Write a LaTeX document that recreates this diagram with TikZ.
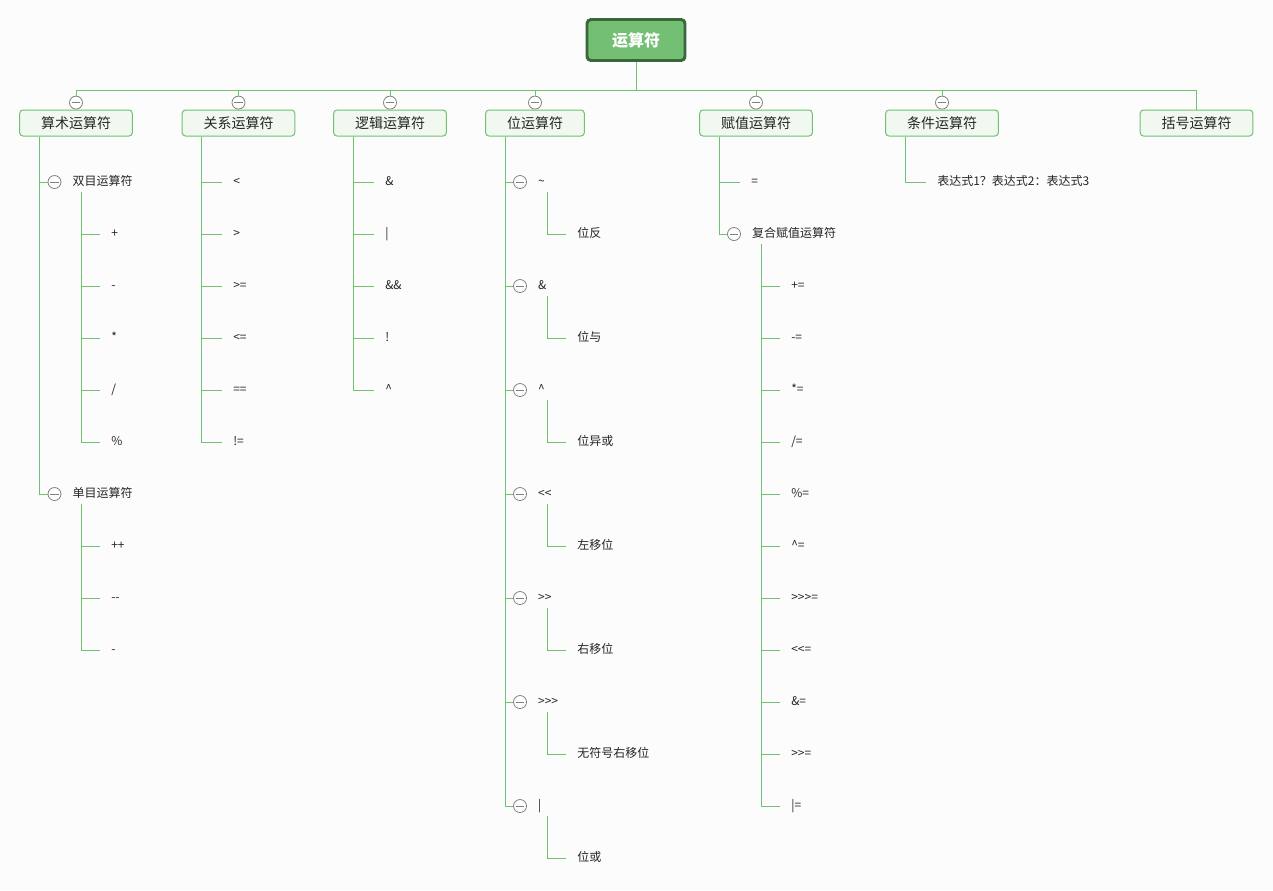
\documentclass[tikz,border=0pt]{standalone}
\usepackage{fontspec}
\newfontfamily\cjk{Noto Sans CJK SC}
\usetikzlibrary{positioning}
\definecolor{lineg}{RGB}{112,194,112}
\definecolor{rootfill}{RGB}{115,192,116}
\definecolor{rootdraw}{RGB}{58,102,60}
\definecolor{boxfill}{RGB}{241,248,240}
\definecolor{bgcol}{RGB}{252,252,252}
\definecolor{txt}{RGB}{38,38,38}
\definecolor{foldgray}{RGB}{128,128,128}

\begin{document}
\begin{tikzpicture}[x=0.75pt,y=-0.75pt,
  root/.style={rectangle,rounded corners=3pt,draw=rootdraw,line width=2.2pt,fill=rootfill,inner xsep=18.75pt,minimum height=30.75pt,text=white,font=\cjk\fontsize{12}{14}\selectfont\bfseries},
  cat/.style={rectangle,rounded corners=2.5pt,draw=lineg,line width=0.75pt,fill=boxfill,inner xsep=16pt,minimum height=19.5pt,text=txt,font=\cjk\fontsize{10.5}{12}\selectfont},
  leaf/.style={anchor=west,inner xsep=8.25pt,inner ysep=3.5pt,text height=6.5pt,text depth=1.5pt,text=txt,font=\cjk\fontsize{9}{11}\selectfont},
  fold/.style={circle,draw=foldgray,fill=white,line width=0.6pt,minimum size=9.75pt,inner sep=0pt,
    path picture={\draw[foldgray,line width=0.6pt] ([xshift=-3.2pt]path picture bounding box.center) -- ([xshift=3.2pt]path picture bounding box.center);}},
  link/.style={draw=lineg,line width=0.75pt}]

\fill[bgcol] (0,0) rectangle (1273,890);
\useasboundingbox (0,0) rectangle (1273,890);

\node[root] (yunsuanfu) at (636,40) {运算符};
\coordinate (hub) at (636,90);
\draw[link] (yunsuanfu.south) -- (hub);

\node[cat] (suanshu) at (76,123) {算术运算符};
\node[cat] (guanxi) at (238.5,123) {关系运算符};
\node[cat] (luoji) at (390,123) {逻辑运算符};
\node[cat] (wei) at (535,123) {位运算符};
\node[cat] (fuzhi) at (756,123) {赋值运算符};
\node[cat] (tiaojian) at (942,123) {条件运算符};
\node[cat] (kuohao) at (1196.5,123) {括号运算符};

\foreach \c in {suanshu,guanxi,luoji,wei,fuzhi,tiaojian}{
  \node[fold,above=0pt of \c.north] (\c-f) {};
  \draw[link] (hub) -| (\c-f.north);
}
\draw[link] (hub) -| (kuohao.north);

% suanshu
\node[fold] (shuangmu-f) at (54.5,182) {};
\node[leaf,right=0pt of shuangmu-f] (shuangmu) {双目运算符};
\node[fold] (danmu-f) at (54.5,494) {};
\node[leaf,right=0pt of danmu-f] (danmu) {单目运算符};
\draw[link] ([xshift=15pt]suanshu.south west) |- (shuangmu-f.west);
\draw[link] ([xshift=15pt]suanshu.south west) |- (danmu-f.west);
\foreach \t [count=\i from 0] in {+,-,*,/,\%}{
  \pgfmathsetmacro{\yn}{234+\i*52}
  \node[leaf] (shuangmu-\i) at (100,\yn) {\t};
  \draw[link] ([xshift=15pt]shuangmu.south west) |- (shuangmu-\i.west);
}
\foreach \t [count=\i from 0] in {++,--,-}{
  \pgfmathsetmacro{\yn}{546+\i*52}
  \node[leaf] (danmu-\i) at (100,\yn) {\t};
  \draw[link] ([xshift=15pt]danmu.south west) |- (danmu-\i.west);
}

% guanxi
\foreach \t [count=\i from 0] in {<,>,>=,<=,==,!=}{
  \pgfmathsetmacro{\yn}{182+\i*52}
  \node[leaf] (guanxi-\i) at (222,\yn) {\t};
  \draw[link] ([xshift=15pt]guanxi.south west) |- (guanxi-\i.west);
}

% luoji
\foreach \t [count=\i from 0] in {\&,|,\&\&,!,\textasciicircum}{
  \pgfmathsetmacro{\yn}{182+\i*52}
  \node[leaf] (luoji-\i) at (374,\yn) {\t};
  \draw[link] ([xshift=15pt]luoji.south west) |- (luoji-\i.west);
}

% wei
\foreach \s/\m [count=\i from 0] in {\textasciitilde/位反,\&/位与,\textasciicircum/位异或,<</左移位,>>/右移位,>>>/无符号右移位,|/位或}{
  \pgfmathsetmacro{\yn}{182+\i*104}
  \pgfmathsetmacro{\ym}{\yn+52}
  \node[fold] (wei-f\i) at (520,\yn) {};
  \node[leaf,right=0pt of wei-f\i] (wei-\i) {\s};
  \node[leaf] (wei-m\i) at (566,\ym) {\m};
  \draw[link] ([xshift=15pt]wei.south west) |- (wei-f\i.west);
  \draw[link] ([xshift=15.2pt]wei-\i.south west) |- (wei-m\i.west);
}

% fuzhi
\node[leaf] (dengyu) at (740,182) {=};
\node[fold] (fuhe-f) at (734,234) {};
\node[leaf,right=0pt of fuhe-f] (fuhe) {复合赋值运算符};
\draw[link] ([xshift=15pt]fuzhi.south west) |- (dengyu.west);
\draw[link] ([xshift=15pt]fuzhi.south west) |- (fuhe-f.west);
\foreach \t [count=\i from 0] in {+=,-=,*=,/=,\%=,\textasciicircum=,>>>=,<<=,\&=,>>=,|=}{
  \pgfmathsetmacro{\yn}{286+\i*52}
  \node[leaf] (fuhe-\i) at (780,\yn) {\t};
  \draw[link] ([xshift=15.2pt]fuhe.south west) |- (fuhe-\i.west);
}

% tiaojian
\node[leaf] (sanyuan) at (926,182) {表达式1？表达式2：表达式3};
\draw[link] ([xshift=15pt]tiaojian.south west) |- (sanyuan.west);

\end{tikzpicture}
\end{document}
